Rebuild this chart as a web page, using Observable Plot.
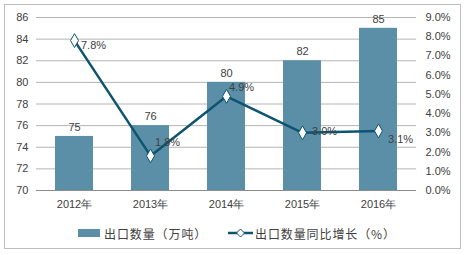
<!DOCTYPE html>
<html>
<head>
<meta charset="utf-8">
<script src="https://cdn.jsdelivr.net/npm/d3@7"></script>
<script src="https://cdn.jsdelivr.net/npm/@observablehq/plot@0.6"></script>
<style>
  html, body { margin: 0; padding: 0; background: #fff; }
  body { width: 467px; height: 255px; position: relative; overflow: hidden;
         font-family: "Liberation Sans", Arial, "Noto Sans CJK SC", sans-serif; }
  #frame { position: absolute; left: 4px; top: 4px; width: 457px; height: 245px;
           border: 1px solid #bdbdbd; box-sizing: border-box; pointer-events: none; }
  #chart { position: absolute; left: 0; top: 0; }
  #legend { position: absolute; left: 0; top: 224px; width: 467px; height: 18px;
            font-family: "Noto Sans CJK SC", "Liberation Sans", sans-serif; font-size: 12px; color: #404040; }
  .item { position: absolute; top: 0; display: flex; align-items: center; height: 18px; white-space: nowrap; letter-spacing: 0.9px; }
</style>
</head>
<body>
<div id="chart"></div>
<div id="legend"></div>
<div id="frame"></div>
<script>
const years = ["2012年", "2013年", "2014年", "2015年", "2016年"];
const exportVolume = [75, 76, 80, 82, 85];          // 万吨
const growthPct = [7.8, 1.8, 4.9, 3.0, 3.1];         // %
const leftTicks = [70, 72, 74, 76, 78, 80, 82, 84, 86];
const rightTicks = [0, 1, 2, 3, 4, 5, 6, 7, 8, 9];   // %
const seriesNames = ["出口数量（万吨）", "出口数量同比增长（%）"];

// label offsets (style only)
const pctLabelDx = [19, 17, 15, 22, 22];
const pctLabelDy = [5, -13, -9, -1, 9];

const barColor = "#5b8fa8";
const lineColor = "#0e5470";
const textColor = "#404040";

const yMin = 70, yMax = 86, pMax = 9;
const pctToY = p => yMin + p * (yMax - yMin) / pMax;

const bars = years.map((y, i) => ({year: y, value: exportVolume[i]}));
const pts = years.map((y, i) => ({year: y, pct: growthPct[i], yv: pctToY(growthPct[i]), dx: pctLabelDx[i], dy: pctLabelDy[i]}));

const labelMarks = pts.map(d => Plot.text([d], {
  x: "year", y: "yv", text: d => d.pct.toFixed(1) + "%",
  dx: d.dx, dy: d.dy, fill: textColor, fontSize: 11
}));

const plot = Plot.plot({
  width: 467,
  height: 215,
  marginTop: 17,
  marginBottom: 25,
  marginLeft: 36,
  marginRight: 51,
  style: {fontFamily: "'Liberation Sans', Arial, sans-serif", fontSize: "11px", color: textColor, background: "transparent"},
  x: {type: "band", domain: years, paddingInner: 0.5, paddingOuter: 0.25},
  y: {domain: [yMin, yMax]},
  marks: [
    Plot.ruleY(leftTicks.slice(1), {stroke: "#b4b4b4", strokeWidth: 1}),
    Plot.barY(bars, {x: "year", y1: yMin, y2: "value", fill: barColor}),
    Plot.ruleY([yMin], {stroke: "#8c8c8c", strokeWidth: 1}),
    Plot.text(bars, {x: "year", y: "value", text: d => String(d.value), dy: -9, fill: textColor, fontSize: 11}),
    Plot.line(pts, {x: "year", y: "yv", stroke: lineColor, strokeWidth: 2.5}),
    Plot.dot(pts, {x: "year", y: "yv", symbol: "diamond", r: 4.2, fill: "white", stroke: lineColor, strokeWidth: 1}),
    ...labelMarks,
    Plot.axisY(leftTicks, {anchor: "left", tickSize: 0, tickPadding: 8, tickFormat: d => String(d), fill: textColor}),
    Plot.axisY(rightTicks.map(pctToY), {anchor: "right", tickSize: 0, tickPadding: 9,
      tickFormat: (d, i) => rightTicks[i].toFixed(1) + "%", fill: textColor}),
    Plot.axisX({tickSize: 0, tickPadding: 10, fill: textColor, fontSize: 11, label: null})
  ]
});
document.getElementById("chart").appendChild(plot);

// legend
const legend = document.getElementById("legend");
const item1 = document.createElement("div");
item1.className = "item";
item1.style.left = "78px";
item1.innerHTML = `<svg width="24" height="10" style="margin-right:2px"><rect x="0" y="1" width="22" height="8" fill="${barColor}"/></svg><span>${seriesNames[0]}</span>`;
legend.appendChild(item1);
const item2 = document.createElement("div");
item2.className = "item";
item2.style.left = "228px";
item2.innerHTML = `<svg width="26" height="12" style="margin-right:1px"><line x1="0" y1="6" x2="25" y2="6" stroke="${lineColor}" stroke-width="2.5"/><path d="M12.5,2 L16.5,6 L12.5,10 L8.5,6 Z" fill="white" stroke="${lineColor}" stroke-width="1"/></svg><span>${seriesNames[1]}</span>`;
legend.appendChild(item2);
</script>
</body>
</html>
